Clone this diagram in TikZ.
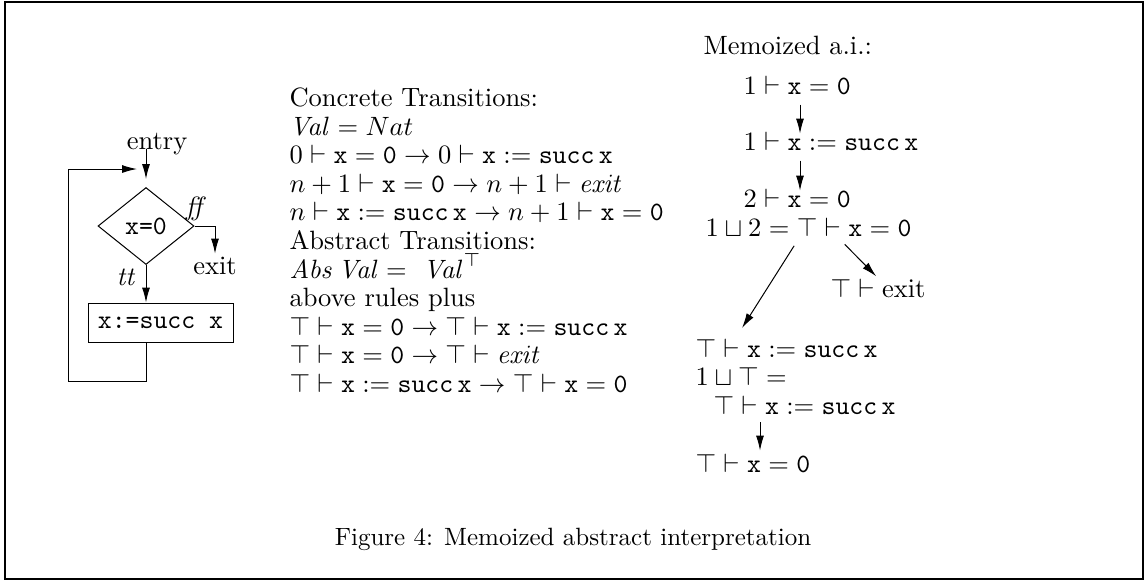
\RequirePackage{fix-cm}
\documentclass[tikz,border=0pt]{standalone}
\usepackage{amsmath,amssymb}
\usepackage{tikz}
\usetikzlibrary{arrows.meta,shapes.geometric}

\begin{document}
\begin{tikzpicture}[
  x=0.4pt, y=-0.4pt,
  every node/.style={inner sep=1pt, font=\fontsize{10.6}{13}\selectfont},
  arr/.style={-{Latex[length=6pt,width=3.2pt]}},
  txt/.style={anchor=base west, inner sep=0pt},
  decision/.style={diamond, draw, minimum width=38.4pt, minimum height=30.8pt, inner sep=0pt},
  action/.style={rectangle, draw, minimum width=58pt, minimum height=15.6pt}
]
  \useasboundingbox (0,0) rectangle (1145,583);
  \draw[line width=0.8pt] (5,1.5) rectangle (1142.5,579);

  % Flowchart of the loop
  \node[anchor=base] (entry) at (157,149) {entry};
  \node[decision] (test) at (146,226) {\texttt{x=0}};
  \node[action] (incr) at (160.5,322.5) {\texttt{x:=succ x}};
  \node[anchor=base] (exitlbl) at (215,274) {exit};
  \node (fflbl) at (196,209) {\textit{ff}};
  \node (ttlbl) at (126,277) {\textit{tt}};
  \coordinate (loopcorner) at (68,381);
  \coordinate (loopend) at (137,169);

  \draw[arr, shorten >=3.2pt] (test.north |- entry.base) -- (test.north);
  \draw[arr] (test.south) -- (test.south |- incr.north);
  \draw[arr] (test.east) -| (exitlbl.north);
  \draw[arr] (test.south |- incr.south) |- (loopcorner) |- (loopend);

  % Transition rules
  \foreach \y/\rtext [count=\i] in {
      106/{Concrete Transitions:},
      135/{$\mathit{Val} = Nat$},
      163/{$0 \vdash \mathtt{x} = \mathtt{0} \rightarrow 0 \vdash \mathtt{x} := \mathtt{succ}\,\mathtt{x}$},
      192/{$n+1 \vdash \mathtt{x} = \mathtt{0} \rightarrow n+1 \vdash \mathit{exit}$},
      220/{$n \vdash \mathtt{x} := \mathtt{succ}\,\mathtt{x} \rightarrow n+1 \vdash \mathtt{x} = \mathtt{0}$},
      249/{Abstract Transitions:},
      278/{$\mathit{Abs}\,\mathit{Val} =\ \mathit{Val}^{\top}$},
      306/{above rules plus},
      335/{$\top \vdash \mathtt{x} = \mathtt{0} \rightarrow \top \vdash \mathtt{x} := \mathtt{succ}\,\mathtt{x}$},
      363/{$\top \vdash \mathtt{x} = \mathtt{0} \rightarrow \top \vdash \mathit{exit}$},
      392/{$\top \vdash \mathtt{x} := \mathtt{succ}\,\mathtt{x} \rightarrow \top \vdash \mathtt{x} = \mathtt{0}$}} {
    \node[txt] (rule\i) at (289,\y) {\rtext};
  }

  % Memoized abstract interpretation
  \node[txt] (memo) at (703,54) {Memoized a.i.:};
  \node[txt] (s1) at (743,94) {$1 \vdash \mathtt{x} = \mathtt{0}$};
  \node[txt] (s2) at (743,150) {$1 \vdash \mathtt{x} := \mathtt{succ}\,\mathtt{x}$};
  \node[txt] (s3) at (743,207) {$2 \vdash \mathtt{x} = \mathtt{0}$};
  \node[txt] (s4) at (705,236) {$1 \sqcup 2 = \top \vdash \mathtt{x} = \mathtt{0}$};
  \node[txt] (s5) at (830,297) {$\top \vdash \mathrm{exit}$};
  \node[txt] (s6) at (695,357) {$\top \vdash \mathtt{x} := \mathtt{succ}\,\mathtt{x}$};
  \node[txt] (s7) at (695,385) {$1 \sqcup \top =$};
  \node[txt] (s8) at (713,414) {$\top \vdash \mathtt{x} := \mathtt{succ}\,\mathtt{x}$};
  \node[txt] (s9) at (695,472) {$\top \vdash \mathtt{x} = \mathtt{0}$};

  \draw[arr, shorten <=4pt, shorten >=-1pt] ([xshift=22.8pt]s1.south west) -- ([xshift=22.8pt]s2.north west);
  \draw[arr, shorten <=4pt, shorten >=-1pt] ([xshift=22.8pt]s2.south west) -- ([xshift=22.8pt]s3.north west);
  \draw[arr, shorten <=4.4pt] ([xshift=38pt]s4.south west) -- ([xshift=18.8pt, yshift=4pt]s6.north west);
  \draw[arr, shorten <=4.4pt, shorten >=1pt] ([xshift=52.8pt]s4.south west) -- ([xshift=19.2pt]s5.north west);
  \draw[arr, shorten <=3pt, shorten >=1pt] ([xshift=18.8pt]s8.south west) -- ([xshift=18.8pt]s8.south west |- s9.north);

  \node[anchor=base, font=\normalsize] (caption) at (573,545) {Figure 4: Memoized abstract interpretation};
\end{tikzpicture}
\end{document}
